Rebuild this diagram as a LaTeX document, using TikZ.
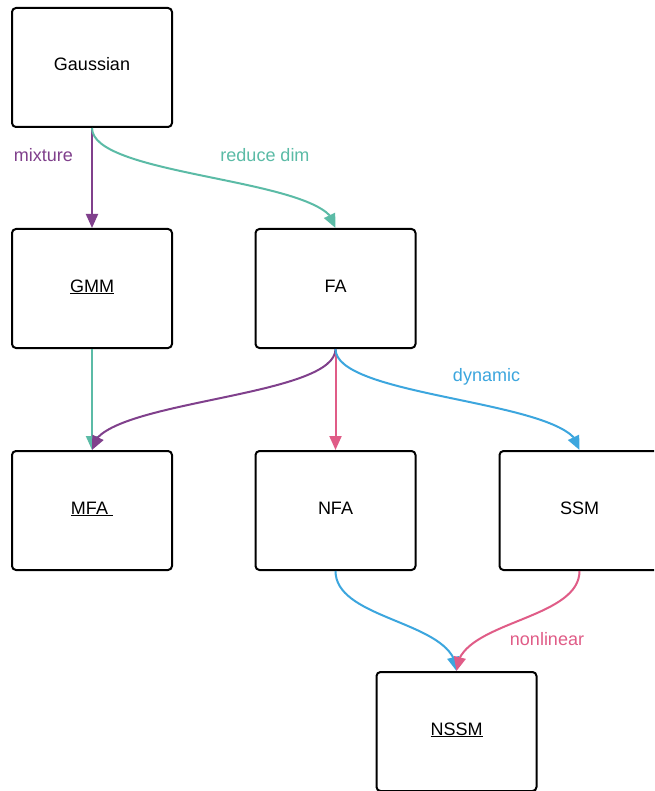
\documentclass[tikz,border=0pt]{standalone}
\usepackage{fontspec}
\setmainfont{Liberation Sans}
\usetikzlibrary{arrows.meta,bending}
\definecolor{cpurple}{RGB}{128,64,140}
\definecolor{cteal}{RGB}{91,187,166}
\definecolor{cblue}{RGB}{60,166,222}
\definecolor{cpink}{RGB}{224,92,135}
\tikzset{
  model/.style={draw=black, line width=2pt, rounded corners=4pt,
    minimum width=160pt, minimum height=119pt, inner sep=0pt,
    text height=13pt, text depth=6pt,
    font=\fontsize{18}{22}\selectfont},
  link/.style={line width=2pt, -{Triangle[length=14pt,width=12pt]}},
  tag/.style={font=\fontsize{18}{22}\selectfont, inner sep=0pt}
}
\begin{document}
\begin{tikzpicture}[x=1pt,y=-1pt]
\clip (0,0) rectangle (654,791);
\fill[white] (0,0) rectangle (654,791);

% model boxes
\node[model] (gauss) at (92,67.5)    {Gaussian};
\node[model] (gmm)   at (92,288.5)   {\underline{GMM}};
\node[model] (fa)    at (335.5,288.5) {FA};
\node[model] (mfa)   at (92,510.5)   {\underline{MFA\ }};
\node[model] (nfa)   at (335.5,510.5) {NFA};
\node[model] (ssm)   at (579.5,510.5) {SSM};
\node[model] (nssm)  at (456.5,731.5) {\underline{NSSM}};

% derivations
\draw[link, cpurple] (gauss.south) -- (gmm.north);
\draw[link, cteal] (gauss.south) .. controls +(0,50) and +(0,-50) .. (fa.north);
\draw[link, cteal] (gmm.south) -- (mfa.north);
\draw[link, cpurple] (fa.south) .. controls +(0,50) and +(0,-50) .. (mfa.north);
\draw[link, cpink] (fa.south) -- (nfa.north);
\draw[link, cblue] (fa.south) .. controls +(0,50) and +(0,-50) .. (ssm.north);
\draw[link, cblue] (nfa.south) .. controls +(0,50) and +(0,-50) .. (nssm.north);
\draw[link, cpink] (ssm.south) .. controls +(0,50) and +(0,-50) .. (nssm.north);

% edge labels
\node[tag, text=cpurple] (lmix) at (43.5,155)  {mixture};
\node[tag, text=cteal]   (lred) at (265,155) {reduce dim};
\node[tag, text=cblue]   (ldyn) at (486.5,377) {dynamic};
\node[tag, text=cpink]   (lnon) at (547,639) {nonlinear};
\end{tikzpicture}
\end{document}
